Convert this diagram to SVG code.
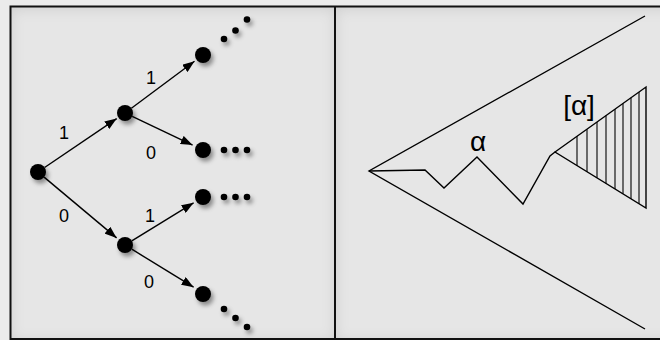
<svg xmlns="http://www.w3.org/2000/svg" width="660" height="340" viewBox="0 0 660 340">
<style>
.edge{stroke:#000;stroke-width:1.4;fill:none}
.ln{stroke:#000;stroke-width:1.4;fill:none;stroke-linejoin:miter}
.hatch{stroke:#000;stroke-width:1.1}
.node{fill:#000}
.dot{fill:#000}
</style>
<defs>
<marker id="arr" markerWidth="13" markerHeight="9" refX="12" refY="4.5" orient="auto" markerUnits="userSpaceOnUse">
<path d="M0,0 L12,4.5 L0,9 z" fill="#000"/>
</marker>
<filter id="ds" x="-60%" y="-60%" width="260%" height="260%">
<feDropShadow dx="2.5" dy="3.5" stdDeviation="2.2" flood-color="#000" flood-opacity="0.4"/>
</filter>
<filter id="inner" x="-10%" y="-10%" width="120%" height="120%">
<feComponentTransfer in="SourceAlpha" result="inv"><feFuncA type="table" tableValues="1 0"/></feComponentTransfer>
<feGaussianBlur in="inv" stdDeviation="7" result="blur"/>
<feOffset in="blur" dx="0" dy="2" result="off"/>
<feFlood flood-color="#000" flood-opacity="0.22"/>
<feComposite in2="off" operator="in" result="shadow"/>
<feComposite in="shadow" in2="SourceAlpha" operator="in" result="clipped"/>
<feMerge><feMergeNode in="SourceGraphic"/><feMergeNode in="clipped"/></feMerge>
</filter>
</defs>
<rect x="0" y="0" width="660" height="340" fill="#ebebeb"/>
<g id="panels">
<rect x="11" y="7" width="324" height="332" fill="#e6e6e6" filter="url(#inner)"/>
<rect x="336" y="7" width="340" height="332" fill="#e6e6e6" filter="url(#inner)"/>
<rect x="10.5" y="6.5" width="700" height="332.5" fill="none" stroke="#111" stroke-width="2"/>
<line x1="335" y1="6.5" x2="335" y2="340" stroke="#111" stroke-width="2"/>
</g>
<g id="connectors">
<line class="edge" x1="44.6" y1="167.5" x2="116.7" y2="118.6" marker-end="url(#arr)"/>
<line class="edge" x1="131.4" y1="108.2" x2="194.5" y2="61.3" marker-end="url(#arr)"/>
<line class="edge" x1="132.2" y1="116.4" x2="192.6" y2="145.1" marker-end="url(#arr)"/>
<line class="edge" x1="44.1" y1="177.1" x2="116.6" y2="237.9" marker-end="url(#arr)"/>
<line class="edge" x1="131.8" y1="240.8" x2="193.6" y2="202.8" marker-end="url(#arr)"/>
<line class="edge" x1="131.8" y1="249.2" x2="193.6" y2="287.2" marker-end="url(#arr)"/>
</g>
<g id="labels" font-family="Liberation Sans, Arial, sans-serif" font-size="18" text-anchor="middle" fill="#000">
<text x="64" y="139">1</text>
<text x="151" y="84">1</text>
<text x="151" y="159">0</text>
<text x="64" y="222">0</text>
<text x="150" y="222">1</text>
<text x="149" y="288">0</text>
</g>
<g id="root" filter="url(#ds)"><circle class="node" cx="38" cy="172" r="8"/></g>
<g id="n1" filter="url(#ds)"><circle class="node" cx="125" cy="113" r="8"/></g>
<g id="n0" filter="url(#ds)"><circle class="node" cx="125" cy="245" r="8"/></g>
<g id="n11" filter="url(#ds)"><circle class="node" cx="203" cy="55" r="8"/>
<circle class="dot" cx="224" cy="39" r="3.3"/><circle class="dot" cx="235.5" cy="30.5" r="3.3"/><circle class="dot" cx="247" cy="19.5" r="3.3"/></g>
<g id="n10" filter="url(#ds)"><circle class="node" cx="203" cy="150" r="8"/>
<circle class="dot" cx="224" cy="150" r="3.3"/><circle class="dot" cx="235.5" cy="150" r="3.3"/><circle class="dot" cx="247" cy="150" r="3.3"/></g>
<g id="n01" filter="url(#ds)"><circle class="node" cx="203" cy="197" r="8"/>
<circle class="dot" cx="224" cy="197" r="3.3"/><circle class="dot" cx="235.5" cy="197" r="3.3"/><circle class="dot" cx="247" cy="197" r="3.3"/></g>
<g id="n00" filter="url(#ds)"><circle class="node" cx="203" cy="294" r="8"/>
<circle class="dot" cx="224" cy="309" r="3.3"/><circle class="dot" cx="235.5" cy="318" r="3.3"/><circle class="dot" cx="247" cy="327" r="3.3"/></g>
<g id="cone">
<polyline class="ln" points="645,16 369,171 645,329"/>
<polyline class="ln" points="369,171 425,170 444,188 477,157 523,204 550,156 555,152"/>
<polygon class="ln" points="555,152 646,87 646,208"/>
<g class="hatch">
<line x1="577" y1="136.3" x2="577" y2="165.5"/>
<line x1="587" y1="129.2" x2="587" y2="171.7"/>
<line x1="597" y1="122" x2="597" y2="177.8"/>
<line x1="606" y1="115.6" x2="606" y2="183.4"/>
<line x1="615" y1="109.1" x2="615" y2="188.9"/>
<line x1="623" y1="103.4" x2="623" y2="193.8"/>
<line x1="631" y1="97.7" x2="631" y2="198.7"/>
<line x1="639" y1="92" x2="639" y2="203.7"/>
</g>
<g font-family="Liberation Sans, DejaVu Sans, sans-serif" font-size="28" text-anchor="middle" fill="#000">
<text x="478" y="151">α</text>
<text x="579" y="115">[α]</text>
</g>
</g>
</svg>
